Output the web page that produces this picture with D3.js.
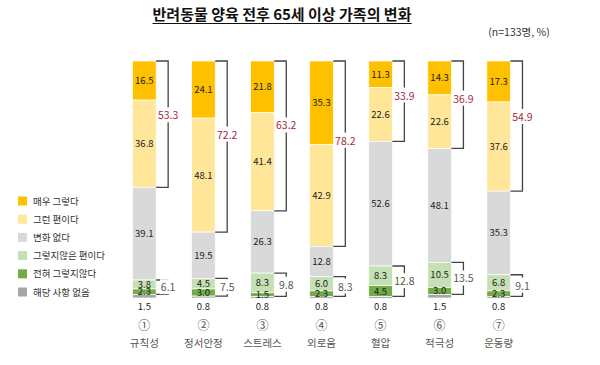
<!DOCTYPE html>
<html>
<head>
<meta charset="utf-8">
<script src="https://cdn.jsdelivr.net/npm/d3@7"></script>
<style>
  body { margin: 0; background: #fff; }
  svg { display: block; font-family: "Noto Sans CJK KR", "Noto Sans", sans-serif; }
</style>
</head>
<body>
<svg id="chart" width="600" height="365"></svg>
<script>
// 항목
const categories = ['규칙성', '정서안정', '스트레스', '외로움', '혈압', '적극성', '운동량'];
const circled = ['①', '②', '③', '④', '⑤', '⑥', '⑦'];
const seriesNames = ['매우 그렇다', '그런 편이다', '변화 없다', '그렇지않은 편이다', '전혀 그렇지않다', '해당 사항 없음'];
const seriesColors = ['#FFC000', '#FFE699', '#D9D9D9', '#C5E0B4', '#70AD47', '#A6A6A6'];

// 시리즈 값 (%)
const veryMuch = [16.5, 24.1, 21.8, 35.3, 11.3, 14.3, 17.3];
const somewhat = [36.8, 48.1, 41.4, 42.9, 22.6, 22.6, 37.6];
const noChange = [39.1, 19.5, 26.3, 12.8, 52.6, 48.1, 35.3];
const notMuch = [3.8, 4.5, 8.3, 6.0, 8.3, 10.5, 6.8];
const notAtAll = [2.3, 3.0, 1.5, 2.3, 4.5, 3.0, 2.3];
const notApplicable = [1.5, 0.8, 0.8, 0.8, 0.8, 1.5, 0.8];

const series = [veryMuch, somewhat, noChange, notMuch, notAtAll, notApplicable];
const rows = categories.map((c, i) => {
  const r = { cat: c };
  seriesNames.forEach((s, k) => (r[s] = series[k][i]));
  return r;
});

const svg = d3.select('#chart');

// 제목
const title = svg.append('text')
  .attr('x', 282).attr('y', 20)
  .attr('text-anchor', 'middle')
  .attr('font-size', 15).attr('font-weight', 700).attr('fill', '#111')
  .text('반려동물 양육 전후 65세 이상 가족의 변화');
const tb = title.node().getBBox();
svg.append('line')
  .attr('x1', tb.x).attr('x2', tb.x + tb.width)
  .attr('y1', 23.5).attr('y2', 23.5)
  .attr('stroke', '#111').attr('stroke-width', 1.2);

svg.append('text')
  .attr('x', 519).attr('y', 36)
  .attr('text-anchor', 'middle')
  .attr('font-size', 10.5).attr('fill', '#333')
  .text('(n=133명, %)');

// 스케일
const x = d3.scaleBand().domain(categories).range([103, 540]).paddingInner(0.6).paddingOuter(0.5);
const y = d3.scaleLinear().domain([0, 100]).range([61, 298]);

const layers = d3.stack().keys(seriesNames)(rows);

const g = svg.append('g');

// 막대
layers.forEach((layer, k) => {
  g.append('g')
    .selectAll('rect')
    .data(layer)
    .join('rect')
    .attr('x', d => x(d.data.cat))
    .attr('width', x.bandwidth())
    .attr('y', d => y(d[0]))
    .attr('height', d => y(d[1]) - y(d[0]))
    .attr('fill', seriesColors[k])
    .attr('stroke', '#fff')
    .attr('stroke-width', 0.7);
});

// 막대 안 값
layers.forEach((layer, k) => {
  const isLast = k === seriesNames.length - 1;
  g.append('g')
    .selectAll('text')
    .data(layer)
    .join('text')
    .attr('x', d => x(d.data.cat) + x.bandwidth() / 2)
    .attr('y', d => isLast ? y(100) + 12 : (y(d[0]) + y(d[1])) / 2 + 3.5)
    .attr('text-anchor', 'middle')
    .attr('font-size', 9.5)
    .attr('fill', '#222')
    .text(d => (d[1] - d[0]).toFixed(1));
});

// 괄호
function bracket(i, y0, y1, label, color, t) {
  const xr = x(categories[i]) + x.bandwidth();
  const xl = xr + 12;
  g.append('path')
    .attr('d', `M${xr},${y0} H${xl} V${y1} H${xr}`)
    .attr('fill', 'none')
    .attr('stroke', '#444')
    .attr('stroke-width', 1.3);
  const ly = y0 + (y1 - y0) * t;
  const txt = g.append('text')
    .attr('x', xl).attr('y', ly + 4)
    .attr('text-anchor', 'middle')
    .attr('font-size', 10.5)
    .attr('fill', color)
    .text(label);
  const b = txt.node().getBBox();
  g.insert('rect', () => txt.node())
    .attr('x', b.x - 1).attr('y', b.y)
    .attr('width', b.width + 2).attr('height', b.height)
    .attr('fill', '#fff');
}

categories.forEach((c, i) => {
  const pos = veryMuch[i] + somewhat[i];
  bracket(i, y(0), y(pos), pos.toFixed(1), '#A3283A', 0.43);
  const negStart = veryMuch[i] + somewhat[i] + noChange[i];
  const neg = notMuch[i] + notAtAll[i];
  bracket(i, y(negStart), y(negStart + neg), neg.toFixed(1), '#4F5E46', 0.5);
});

// 범주 라벨
categories.forEach((c, i) => {
  const cx = x(c) + x.bandwidth() / 2;
  svg.append('text')
    .attr('x', cx).attr('y', 330)
    .attr('text-anchor', 'middle')
    .attr('font-size', 12).attr('fill', '#555')
    .text(circled[i]);
  svg.append('text')
    .attr('x', cx).attr('y', 347)
    .attr('text-anchor', 'middle')
    .attr('font-size', 10.5).attr('fill', '#555')
    .text(c);
});

// 범례
const legend = svg.append('g');
seriesNames.forEach((s, k) => {
  const ly = 201 + k * 18.2;
  legend.append('rect')
    .attr('x', 18).attr('y', ly - 4.5)
    .attr('width', 9).attr('height', 9)
    .attr('fill', seriesColors[k]);
  legend.append('text')
    .attr('x', 33).attr('y', ly + 3.5)
    .attr('font-size', 9.5).attr('fill', '#333')
    .text(s);
});
</script>
</body>
</html>
